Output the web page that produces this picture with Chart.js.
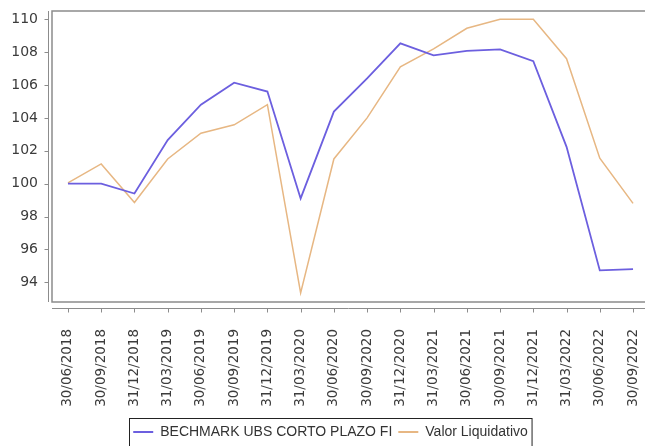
<!DOCTYPE html>
<html>
<head>
<meta charset="utf-8">
<script src="https://cdn.jsdelivr.net/npm/chart.js@4.4.1/dist/chart.umd.min.js"></script>
<style>
  html, body { margin: 0; padding: 0; background: #fff; overflow: hidden; }
  #wrap { width: 645px; height: 449px; position: relative; }
</style>
</head>
<body>
<div id="wrap"><canvas id="chart"></canvas></div>
<script>
const fechas = [
  "30/06/2018", "30/09/2018", "31/12/2018", "31/03/2019", "30/06/2019", "30/09/2019",
  "31/12/2019", "31/03/2020", "30/06/2020", "30/09/2020", "31/12/2020", "31/03/2021",
  "30/06/2021", "30/09/2021", "31/12/2021", "31/03/2022", "30/06/2022", "30/09/2022"
]
const benchmark = [
  100.0, 100.0, 99.4, 102.65, 104.8, 106.14, 105.6, 99.1, 104.38, 106.4,
  108.53, 107.8, 108.08, 108.16, 107.45, 102.24, 94.72, 94.8
]
const valorLiquidativo = [
  100.05, 101.2, 98.85, 101.5, 103.07, 103.58, 104.8, 93.35, 101.5, 104.0,
  107.1, 108.2, 109.45, 110.0, 110.0, 107.6, 101.55, 98.8
]
const yTicks = [94, 96, 98, 100, 102, 104, 106, 108, 110]

const axisColor = "#8c8c8c"
const textColor = "#3c3c3c"
const blue = "#6c5fdf"
const tan = "#e7b783"

// plot frame plus the detached axis lines, JFreeChart style
const framePlugin = {
  id: "frame",
  afterLayout(chart) {
    // the boxed legend sits a little right of centre
    if (chart.legend) {
      chart.legend.left += 8
      chart.legend.right += 8
    }
  },
  afterDatasetsDraw(chart) {
    const { ctx, chartArea: a, scales, width } = chart
    ctx.save()
    ctx.strokeStyle = axisColor
    ctx.lineWidth = 1.5
    ctx.beginPath()
    ctx.moveTo(width + 2, a.top)
    ctx.lineTo(a.left, a.top)
    ctx.lineTo(a.left, a.bottom)
    ctx.lineTo(width + 2, a.bottom)
    ctx.stroke()

    ctx.lineWidth = 1
    const ax = a.left - 3.5
    ctx.beginPath()
    ctx.moveTo(ax, a.top)
    ctx.lineTo(ax, a.bottom)
    yTicks.forEach(v => {
      const y = Math.round(scales.y.getPixelForValue(v)) + 0.5
      ctx.moveTo(ax, y)
      ctx.lineTo(ax - 4, y)
    })
    const ay = a.bottom + 6.5
    ctx.moveTo(a.left, ay)
    ctx.lineTo(width, ay)
    fechas.forEach((_, i) => {
      const x = Math.round(scales.x.getPixelForValue(i)) + 0.5
      ctx.moveTo(x, ay)
      ctx.lineTo(x, ay + 4)
    })
    ctx.stroke()
    ctx.restore()
  },
  afterDraw(chart) {
    const boxes = chart.legend && chart.legend.legendHitBoxes
    if (!boxes || !boxes.length) return
    const left = Math.min(...boxes.map(b => b.left))
    const right = Math.max(...boxes.map(b => b.left + b.width))
    const top = Math.min(...boxes.map(b => b.top))
    const { ctx } = chart
    ctx.save()
    ctx.strokeStyle = "#222"
    ctx.lineWidth = 1
    ctx.strokeRect(Math.round(left - 4) + 0.5, Math.round(top - 7) + 0.5, right - left + 8, 60)
    ctx.restore()
  }
}

new Chart(document.getElementById("chart"), {
  type: "line",
  data: {
    datasets: [
      {
        label: "BECHMARK UBS CORTO PLAZO FI",
        data: benchmark.map((v, i) => ({ x: i, y: v })),
        borderColor: blue,
        backgroundColor: blue,
        borderWidth: 1.8,
        pointRadius: 0,
        tension: 0
      },
      {
        label: "Valor Liquidativo",
        data: valorLiquidativo.map((v, i) => ({ x: i, y: v })),
        borderColor: tan,
        backgroundColor: tan,
        borderWidth: 1.5,
        pointRadius: 0,
        tension: 0
      }
    ]
  },
  options: {
    responsive: true,
    maintainAspectRatio: false,
    animation: false,
    layout: { padding: { top: 11, right: 0, left: 0, bottom: 0 } },
    plugins: {
      tooltip: { enabled: false },
      legend: {
        position: "bottom",
        labels: {
          color: "#333",
          font: { family: "Liberation Sans", size: 14 },
          boxWidth: 20,
          boxHeight: 2,
          padding: 6,
          generateLabels: (chart) =>
            Chart.defaults.plugins.legend.labels.generateLabels(chart).map(l => ({ ...l, lineWidth: 0 }))
        }
      }
    },
    scales: {
      x: {
        type: "linear",
        min: -0.48,
        max: 17.36,
        grid: { display: false, drawTicks: false },
        border: { display: false },
        afterBuildTicks: (s) => { s.ticks = fechas.map((_, i) => ({ value: i })) },
        afterFit: (s) => {
          s.height = 117
          s.paddingLeft = 0
          s.paddingRight = 0
        },
        ticks: {
          autoSkip: false,
          minRotation: 90,
          maxRotation: 90,
          padding: 27,
          color: textColor,
          font: { family: "DejaVu Sans", size: 13.5 },
          callback: (v) => fechas[v]
        }
      },
      y: {
        min: 92.8,
        max: 110.5,
        grid: { display: false, drawTicks: false },
        border: { display: false },
        afterBuildTicks: (s) => { s.ticks = yTicks.map(v => ({ value: v })) },
        afterFit: (s) => {
          s.width = 52
          s.paddingTop = 0
          s.paddingBottom = 0
        },
        ticks: {
          padding: 14,
          color: textColor,
          font: { family: "DejaVu Sans", size: 14 },
          callback: (v) => String(v)
        }
      }
    }
  },
  plugins: [framePlugin]
})
</script>
</body>
</html>
